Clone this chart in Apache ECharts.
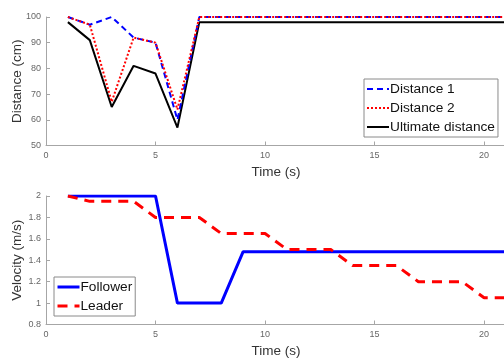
<!DOCTYPE html>
<html>
<head>
<meta charset="utf-8">
<script src="https://cdn.jsdelivr.net/npm/echarts@6/dist/echarts.min.js"></script>
<style>
  html, body { margin: 0; padding: 0; background: #fff; }
  #chart { width: 504px; height: 358px; }
</style>
</head>
<body>
<div id="chart"></div>
<script>
// 时间轴 (s)
const time = [1, 2, 3, 4, 5, 6, 7, 8, 9, 10, 11, 12, 13, 14, 15, 16, 17, 18, 19, 20, 21]

// 上图：距离 (cm)
const distance1 = [100, 97, 100, 92, 90, 60, 100, 100, 100, 100, 100, 100, 100, 100, 100, 100, 100, 100, 100, 100, 100]
const distance2 = [100, 97, 67, 92, 90, 64, 100, 100, 100, 100, 100, 100, 100, 100, 100, 100, 100, 100, 100, 100, 100]
const ultimate = [98, 91, 65, 81, 78, 57, 98, 98, 98, 98, 98, 98, 98, 98, 98, 98, 98, 98, 98, 98, 98]

// 下图：速度 (m/s)
const follower = [2, 2, 2, 2, 2, 1, 1, 1, 1.48, 1.48, 1.48, 1.48, 1.48, 1.48, 1.48, 1.48, 1.48, 1.48, 1.48, 1.48, 1.48]
const leader = [2, 1.95, 1.95, 1.95, 1.8, 1.8, 1.8, 1.65, 1.65, 1.65, 1.5, 1.5, 1.5, 1.35, 1.35, 1.35, 1.2, 1.2, 1.2, 1.05, 1.05]

const pairs = (vals) => time.map((t, i) => [t, vals[i]])

const axisColor = '#a6a6a6'
const labelColor = '#666'
const nameColor = '#333'

const xAxisBase = (gridIndex) => ({
  type: 'value',
  gridIndex,
  min: 0,
  max: 21,
  interval: 5,
  name: 'Time (s)',
  nameLocation: 'middle',
  nameGap: 20,
  nameMoveOverlap: false,
  nameTextStyle: { fontSize: 13.5, color: nameColor, fontFamily: 'Liberation Sans, Arial' },
  axisLine: { lineStyle: { color: axisColor, width: 1 } },
  axisTick: { inside: true, length: 4, lineStyle: { color: axisColor } },
  axisLabel: { fontSize: 9, color: labelColor, margin: 6, showMaxLabel: false },
  splitLine: { show: false }
})

const yAxisBase = (gridIndex, min, max, interval, name, fmt) => ({
  type: 'value',
  gridIndex,
  min,
  max,
  interval,
  name,
  nameLocation: 'middle',
  nameGap: 22,
  nameMoveOverlap: false,
  nameTextStyle: { fontSize: 13.5, color: nameColor, fontFamily: 'Liberation Sans, Arial' },
  axisLine: { show: true, lineStyle: { color: axisColor, width: 1 } },
  axisTick: { show: true, inside: true, length: 4, lineStyle: { color: axisColor } },
  axisLabel: { fontSize: 9, color: labelColor, margin: 5, formatter: fmt },
  splitLine: { show: false }
})

const legendBase = {
  orient: 'vertical',
  itemWidth: 22,
  itemHeight: 14,
  itemGap: 5,
  padding: [3, 3, 3, 2],
  borderColor: '#8a8a8a',
  borderWidth: 1,
  backgroundColor: '#fff',
  itemStyle: { opacity: 0 },
  lineStyle: { width: 'inherit' },
  textStyle: { fontSize: 13.7, color: '#111', padding: [0, 0, 0, -4] }
}

const chart = echarts.init(document.getElementById('chart'))

const option = {
  animation: false,
  backgroundColor: '#fff',
  textStyle: { fontFamily: 'Liberation Sans, Arial' },
  grid: [
    { left: 46, top: 17, height: 128.5, right: -2, containLabel: false, outerBoundsMode: 'none' },
    { left: 46, top: 196, height: 128.5, right: -2, containLabel: false, outerBoundsMode: 'none' }
  ],
  xAxis: [xAxisBase(0), xAxisBase(1)],
  yAxis: [
    yAxisBase(0, 50, 100, 10, 'Distance (cm)', (v) => String(v)),
    yAxisBase(1, 0.8, 2, 0.2, 'Velocity (m/s)', (v) => String(Math.round(v * 10) / 10))
  ],
  legend: [
    Object.assign({}, legendBase, {
      data: ['Distance 1', 'Distance 2', 'Ultimate distance'],
      left: 364,
      top: 79
    }),
    Object.assign({}, legendBase, {
      data: ['Follower', 'Leader'],
      left: 54,
      top: 277
    })
  ],
  series: [
    {
      name: 'Distance 1',
      type: 'line',
      xAxisIndex: 0,
      yAxisIndex: 0,
      data: pairs(distance1),
      symbol: 'none',
      z: 3,
      lineStyle: { color: '#0000ff', width: 2, type: [6, 4] },
      itemStyle: { color: '#0000ff' }
    },
    {
      name: 'Distance 2',
      type: 'line',
      xAxisIndex: 0,
      yAxisIndex: 0,
      data: pairs(distance2),
      symbol: 'none',
      z: 4,
      lineStyle: { color: '#ff0000', width: 2, type: [2, 2] },
      itemStyle: { color: '#ff0000' }
    },
    {
      name: 'Ultimate distance',
      type: 'line',
      xAxisIndex: 0,
      yAxisIndex: 0,
      data: pairs(ultimate),
      symbol: 'none',
      z: 2,
      lineStyle: { color: '#000000', width: 2 },
      itemStyle: { color: '#000000' }
    },
    {
      name: 'Follower',
      type: 'line',
      xAxisIndex: 1,
      yAxisIndex: 1,
      data: pairs(follower),
      symbol: 'none',
      lineStyle: { color: '#0000ff', width: 3 },
      itemStyle: { color: '#0000ff' }
    },
    {
      name: 'Leader',
      type: 'line',
      xAxisIndex: 1,
      yAxisIndex: 1,
      data: pairs(leader),
      symbol: 'none',
      lineStyle: { color: '#ff0000', width: 3, type: [10, 7] },
      itemStyle: { color: '#ff0000' }
    }
  ]
}

chart.setOption(option)
</script>
</body>
</html>
